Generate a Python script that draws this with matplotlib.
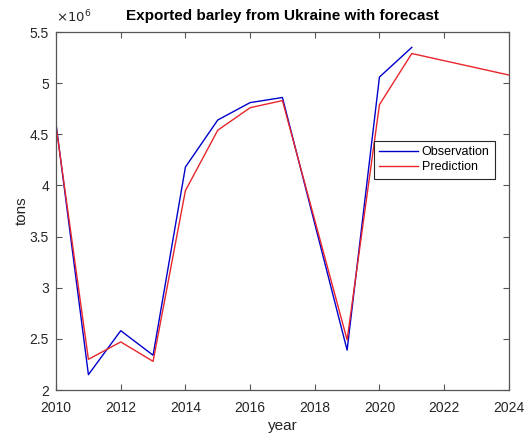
import matplotlib
matplotlib.use("Agg")
import matplotlib.pyplot as plt

plt.rcParams['font.family'] = ['Liberation Sans', 'DejaVu Sans']

# Barley exports (tons) – observed and model prediction
obs_years = [2010, 2011, 2012, 2013, 2014, 2015, 2016, 2017, 2019, 2020, 2021]
obs_tons = [4.60e6, 2.15e6, 2.58e6, 2.34e6, 4.18e6, 4.64e6, 4.81e6, 4.86e6, 2.39e6, 5.06e6, 5.35e6]

pred_years = [2010, 2011, 2012, 2013, 2014, 2015, 2016, 2017, 2019, 2020, 2021, 2024]
pred_tons = [4.58e6, 2.30e6, 2.47e6, 2.28e6, 3.95e6, 4.54e6, 4.76e6, 4.83e6, 2.49e6, 4.79e6, 5.29e6, 5.08e6]

x_ticks = [2010, 2012, 2014, 2016, 2018, 2020, 2022, 2024]
y_ticks = [2.0e6, 2.5e6, 3.0e6, 3.5e6, 4.0e6, 4.5e6, 5.0e6, 5.5e6]
y_tick_labels = ['2', '2.5', '3', '3.5', '4', '4.5', '5', '5.5']

fig = plt.figure(figsize=(5.24, 4.36), dpi=100)
ax = fig.add_axes([0.107, 0.1055, 0.864, 0.821])

ax.plot(obs_years, obs_tons, color='#0000cc', lw=1.0, label='Observation')
ax.plot(pred_years, pred_tons, color='#e8262b', lw=1.0, label='Prediction')

ax.set_xlim(2010, 2024)
ax.set_ylim(2.0e6, 5.5e6)
ax.set_xticks(x_ticks)
ax.set_xticklabels([str(t) for t in x_ticks])
ax.set_yticks(y_ticks)
ax.set_yticklabels(y_tick_labels)

grey = '#262626'
for s in ax.spines.values():
    s.set_color('#555555')
    s.set_linewidth(0.9)
ax.tick_params(direction='in', length=4, width=0.8, color='#555555',
               labelcolor=grey, labelsize=10, top=True, right=True)
ax.tick_params(axis='x', pad=8)
ax.tick_params(axis='y', pad=5)

ax.set_xlabel('year', fontsize=11, color=grey, labelpad=3)
ax.set_ylabel('tons', fontsize=11, color=grey, labelpad=1)
ax.set_title('Exported barley from Ukraine with forecast', fontsize=11,
             fontweight='bold', color='black', pad=9)

ax.text(0.0, 1.02, r'$\times10^{6}$', transform=ax.transAxes, fontsize=9.5,
        color=grey, ha='left', va='bottom')

leg = ax.legend(loc='center right', bbox_to_anchor=(0.97, 0.643), fontsize=9,
                frameon=True, fancybox=False, edgecolor=grey, framealpha=1,
                handlelength=3.1, borderpad=0.45, labelspacing=0.25,
                handletextpad=0.3, borderaxespad=0)
leg.get_frame().set_linewidth(0.8)

fig.savefig('out.png', dpi=100)
